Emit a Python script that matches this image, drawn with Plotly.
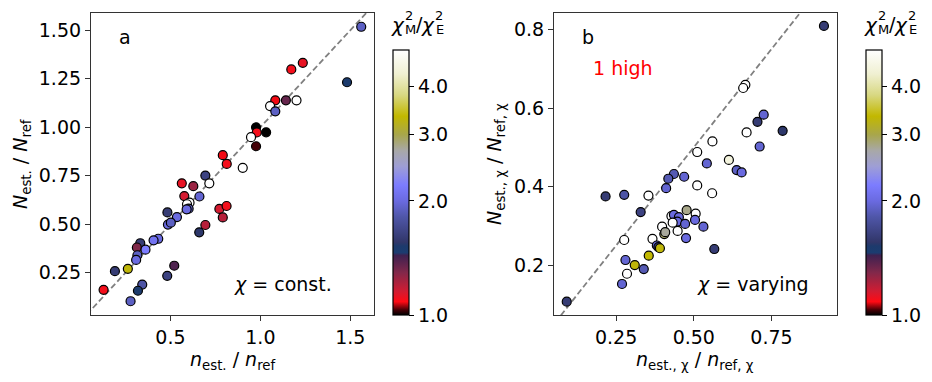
import numpy as np
import plotly.graph_objects as go

# panel a: chi = const.
a_x = [1.561, 1.482, 1.236, 1.172, 1.201, 1.142, 1.083, 1.054, 1.083, 0.976,
       0.980, 1.032, 0.948, 0.976, 0.791, 0.813, 0.902, 0.694, 0.716, 0.563,
       0.627, 0.577, 0.661, 0.606, 0.592, 0.601, 0.590, 0.483, 0.536, 0.486,
       0.502, 0.772, 0.812, 0.791, 0.694, 0.660, 0.432, 0.406, 0.332, 0.313,
       0.361, 0.316, 0.309, 0.263, 0.191, 0.128, 0.521, 0.482, 0.343, 0.319,
       0.278]
a_y = [1.518, 1.232, 1.332, 1.298, 1.139, 1.139, 1.139, 1.109, 1.082, 1.000,
       0.973, 0.974, 0.949, 0.902, 0.856, 0.811, 0.791, 0.751, 0.711, 0.711,
       0.696, 0.645, 0.643, 0.611, 0.603, 0.580, 0.577, 0.561, 0.537, 0.498,
       0.508, 0.579, 0.594, 0.535, 0.496, 0.458, 0.425, 0.417, 0.402, 0.380,
       0.369, 0.340, 0.316, 0.270, 0.258, 0.162, 0.286, 0.234, 0.189, 0.157,
       0.103]
a_ratio = [1.9, 1.5, 1.12, 1.1, 6.0, 1.35, 1.08, 5.5, 1.9, 1.0,
           1.1, 1.0, 5.5, 1.03, 1.08, 1.1, 6.0, 1.65, 5.5, 1.12,
           1.25, 1.15, 1.95, 5.0, 5.0, 1.9, 2.0, 1.6, 2.0, 2.0,
           1.9, 1.15, 1.1, 1.2, 1.2, 1.55, 2.0, 2.1, 1.6, 1.3,
           2.2, 1.9, 2.0, 3.3, 1.6, 1.1, 1.4, 1.65, 1.8, 1.5,
           1.9]

# panel b: chi varying
b_x = [0.919, 0.091, 0.666, 0.659, 0.725, 0.705, 0.786, 0.670, 0.712, 0.560,
       0.511, 0.613, 0.542, 0.638, 0.654, 0.436, 0.418, 0.469, 0.411, 0.511,
       0.559, 0.354, 0.276, 0.216, 0.329, 0.477, 0.506, 0.428, 0.436, 0.452,
       0.447, 0.432, 0.472, 0.504, 0.531, 0.448, 0.398, 0.405, 0.408, 0.475,
       0.367, 0.276, 0.381, 0.386, 0.391, 0.566, 0.355, 0.280, 0.310, 0.339,
       0.285, 0.269]
b_y = [0.809, 0.107, 0.659, 0.651, 0.583, 0.565, 0.542, 0.538, 0.502, 0.515,
       0.488, 0.468, 0.459, 0.442, 0.436, 0.432, 0.420, 0.425, 0.396, 0.403,
       0.383, 0.377, 0.379, 0.375, 0.335, 0.340, 0.331, 0.325, 0.328, 0.322,
       0.311, 0.308, 0.305, 0.315, 0.298, 0.287, 0.298, 0.279, 0.284, 0.269,
       0.267, 0.264, 0.250, 0.246, 0.243, 0.241, 0.224, 0.213, 0.200, 0.190,
       0.178, 0.152]
b_ratio = [1.6, 1.6, 5.5, 5.0, 1.95, 1.6, 1.55, 6.0, 1.95, 6.0,
           6.0, 4.5, 1.95, 1.9, 2.0, 1.85, 1.85, 1.95, 1.95, 6.0,
           6.0, 6.0, 1.8, 1.6, 1.65, 2.8, 6.0, 6.0, 2.0, 2.0,
           2.0, 6.0, 1.95, 2.0, 1.95, 6.0, 6.0, 2.9, 2.75, 2.0,
           6.0, 6.0, 1.95, 1.6, 3.3, 1.6, 3.35, 1.95, 3.3, 1.85,
           6.0, 1.95]

identity = [0, 2]
cbar_ticks = [1, 2, 3, 4]
cmax_ratio = 5.0

# custom colormap, positions in log10(ratio)/log10(5)
cscale = [
    [0.0, "#000000"], [0.02, "#4a0006"], [0.05, "#ff0a14"], [0.09, "#d01c32"],
    [0.16, "#82284a"], [0.225, "#3e2150"], [0.235, "#1b3c70"], [0.26, "#1d3a6c"],
    [0.275, "#313669"], [0.37, "#4f56a8"], [0.43, "#6a6ae0"], [0.49, "#7c7cff"],
    [0.56, "#9e9ed6"], [0.62, "#a8a8a8"], [0.68, "#a8a64c"], [0.75, "#c2b800"],
    [0.83, "#d8d882"], [0.91, "#f0f0d2"], [1.0, "#ffffff"],
]

FONT = "DejaVu Sans"
# the page body has an 8px margin, so the figure sits 8px in from the window edge
OFF = 8
W, H = 932 - OFF, 382 - OFF


def px(x):
    return (x - OFF) / W


def py(y):
    return 1 - (y - OFF) / H


fig = go.Figure()

for xs, ys, rs, xa, ya, ca in [(a_x, a_y, a_ratio, "x", "y", "coloraxis"),
                               (b_x, b_y, b_ratio, "x2", "y2", "coloraxis2")]:
    fig.add_trace(go.Scatter(x=identity, y=identity, mode="lines", xaxis=xa, yaxis=ya,
                             line=dict(color="#808080", width=1.8, dash="6px,3px"),
                             hoverinfo="skip", showlegend=False))
    fig.add_trace(go.Scatter(x=xs, y=ys, mode="markers", xaxis=xa, yaxis=ya,
                             marker=dict(size=9, color=np.log10(rs), coloraxis=ca,
                                         line=dict(color="black", width=1.2)),
                             showlegend=False))

axis_common = dict(showline=True, mirror=True, linecolor="#333333", linewidth=1.2,
                   ticks="outside", ticklen=5, tickwidth=1.1, tickcolor="#333333",
                   showgrid=False, zeroline=False,
                   tickfont=dict(family=FONT, size=19, color="black"))

ydom = [py(315), py(13)]
fig.update_layout(
    width=W, height=H, margin=dict(l=0, r=0, t=0, b=0),
    paper_bgcolor="white", plot_bgcolor="white",
    font=dict(family=FONT, color="black"),
    xaxis=dict(domain=[px(91), px(374)], range=[0.058, 1.632], anchor="y",
               tickvals=[0.5, 1.0, 1.5], tickformat=".1f", **axis_common),
    yaxis=dict(domain=ydom, range=[0.032, 1.589], anchor="x",
               tickvals=[0.25, 0.5, 0.75, 1.0, 1.25, 1.5], tickformat=".2f", **axis_common),
    xaxis2=dict(domain=[px(554), px(837)], range=[0.05, 0.961], anchor="y2",
                tickvals=[0.25, 0.5, 0.75], tickformat=".2f", **axis_common),
    yaxis2=dict(domain=ydom, range=[0.073, 0.842], anchor="x2",
                tickvals=[0.2, 0.4, 0.6, 0.8], tickformat=".1f", **axis_common),
)

for name, xl in [("coloraxis", 393), ("coloraxis2", 866)]:
    fig.update_layout({name: dict(
        colorscale=cscale, cmin=0, cmax=np.log10(cmax_ratio),
        colorbar=dict(x=px(xl), xanchor="left", xpad=0, ypad=0,
                      y=py(315), yanchor="bottom", len=(315 - 50) / H, lenmode="fraction",
                      thickness=16, thicknessmode="pixels",
                      outlinewidth=1.2, outlinecolor="black",
                      ticks="outside", ticklen=5, tickwidth=1.1, tickcolor="black",
                      tickvals=np.log10(cbar_ticks),
                      ticktext=["%.1f" % t for t in cbar_ticks],
                      tickfont=dict(family=FONT, size=19, color="black")))})

anns = [
    # panel labels and notes
    dict(x=125, y=37, text="a", size=19, color="black"),
    dict(x=588, y=37, text="b", size=19, color="black"),
    dict(x=623, y=68, text="1 high", size=19, color="red"),
    dict(x=283, y=284, text="<i>χ</i> = const.", size=19, color="black"),
    dict(x=753, y=284, text="<i>χ</i> = varying", size=19, color="black"),
    # axis titles
    dict(x=232, y=360, text="<i>n</i><sub>est.</sub> / <i>n</i><sub>ref</sub>",
         size=19, color="black"),
    dict(x=695, y=360, text="<i>n</i><sub>est., χ</sub> / <i>n</i><sub>ref, χ</sub>",
         size=19, color="black"),
    dict(x=21, y=164, text="<i>N</i><sub>est.</sub> / <i>N</i><sub>ref</sub>",
         size=19, color="black", angle=-90),
    dict(x=495, y=164, text="<i>N</i><sub>est., χ</sub> / <i>N</i><sub>ref, χ</sub>",
         size=19, color="black", angle=-90),
]
# colorbar titles chi^2_M / chi^2_E, with stacked super/subscripts
for x0 in [392, 865]:
    anns += [
        dict(x=x0 + 6, y=25, text="<i>χ</i>", size=20, color="black"),
        dict(x=x0 + 17, y=16, text="2", size=13, color="black"),
        dict(x=x0 + 18, y=29, text="M", size=13, color="black"),
        dict(x=x0 + 27, y=24, text="/", size=19, color="black"),
        dict(x=x0 + 36, y=25, text="<i>χ</i>", size=20, color="black"),
        dict(x=x0 + 47, y=16, text="2", size=13, color="black"),
        dict(x=x0 + 48, y=29, text="E", size=13, color="black"),
    ]
for a in anns:
    fig.add_annotation(x=px(a["x"]), y=py(a["y"]), xref="paper", yref="paper",
                       text=a["text"], showarrow=False, xanchor="center", yanchor="middle",
                       textangle=a.get("angle", 0),
                       font=dict(family=FONT, size=a["size"], color=a["color"]))

fig.write_html("out.html")
